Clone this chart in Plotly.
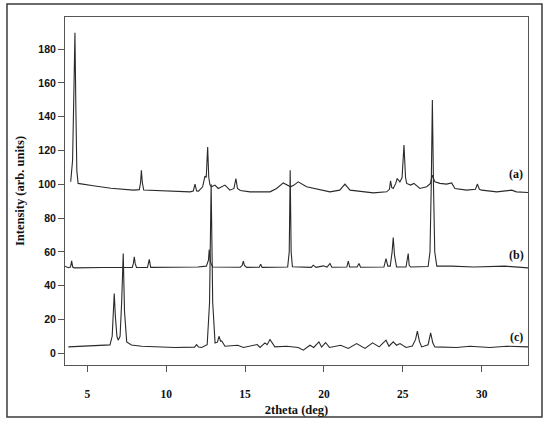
import plotly.graph_objects as go

# XRD patterns, (2theta, intensity) vertices
a_x = [3.95, 4.07, 4.16, 4.22, 4.28, 4.34, 4.42, 4.6, 5.38, 6.5, 7.92, 8.3, 8.38, 8.43,
       8.49, 8.58, 10.03, 11.51, 11.72, 11.83, 11.93, 12.05, 12.31, 12.46, 12.54, 12.63,
       12.7, 12.78, 12.88, 13.09, 13.3, 13.73, 14.04, 14.3, 14.42, 14.52, 14.7, 15.31,
       16.58, 17.0, 17.42, 17.64, 17.89, 18.1, 18.37, 18.9, 20.38, 21.0, 21.33, 21.65,
       23.13, 23.97, 24.15, 24.22, 24.3, 24.39, 24.55, 24.64, 24.81, 24.95, 25.07, 25.17,
       25.24, 25.49, 25.7, 26.08, 26.51, 26.75, 26.86, 26.96, 27.03, 27.35, 27.77, 28.09,
       28.3, 29.04, 29.6, 29.72, 29.85, 30.0, 30.95, 31.9, 32.2, 32.95]
a_y = [101.5, 114, 158, 189.6, 144, 108, 100.5, 100.2, 99.1, 97.6, 96.5, 96.8, 101, 108.3,
       101, 96.6, 96.1, 95.5, 96, 100.1, 96, 95.9, 98.5, 104.8, 104, 122.1,
       104, 99.5, 98.5, 99.5, 97.5, 99.5, 96.5, 97.5, 103.4, 97.5, 96.3, 95.5,
       95.5, 97.5, 100.8, 99.5, 98.5, 99.5, 101.4, 98.5, 95.5, 96.5, 100.1, 96.5,
       94.9, 95.5, 97, 102, 98, 97.5, 100.5, 103.4, 101.4, 104, 123.2, 104,
       100.5, 99.5, 100.5, 97.5, 98.5, 100.5, 105.4, 103, 101.4, 100.5, 100.1, 100.8,
       97.5, 96.5, 97, 100.1, 97, 96.5, 95.5, 96.5, 95.5, 95.1]

b_x = [3.59, 3.8, 3.94, 4.01, 4.08, 4.18, 6.0, 7.85, 7.92, 7.98, 8.04, 8.12, 8.82, 8.93,
       9.02, 10.5, 12.0, 12.55, 12.68, 12.73, 12.8, 12.95, 14.7, 14.82, 14.89, 14.96,
       15.1, 15.9, 15.99, 16.08, 17.7, 17.8, 17.86, 17.92, 18.0, 19.2, 19.32, 19.5,
       19.96, 20.2, 20.38, 20.5, 21.45, 21.54, 21.63, 22.1, 22.22, 22.32, 23.8, 23.93,
       24.05, 24.2, 24.32, 24.39, 24.47, 24.6, 25.2, 25.27, 25.34, 25.4, 25.5, 26.6,
       26.72, 26.8, 26.87, 26.94, 27.02, 27.15, 28.09, 29.5, 31.47, 32.95]
b_y = [51.5, 50.6, 51, 54.6, 51, 50.5, 50.7, 50.8, 53, 57, 53, 50.7, 50.8, 55.6,
       50.8, 50.9, 51, 51.5, 55, 61.4, 54, 51, 50.9, 52, 54.5, 52,
       50.8, 50.9, 52.7, 50.8, 51, 60, 108.3, 60, 51.2, 50.8, 52.1, 50.8,
       51.7, 51, 53.1, 50.9, 51, 54.5, 51, 51, 53.1, 50.9, 51, 56,
       51.5, 51.5, 60, 68.5, 58, 51, 51, 55, 59, 52, 51, 51.3,
       60, 100, 149.8, 100, 60, 51.5, 51.5, 51, 51.5, 50.5]

c_x = [3.8, 4.85, 6.0, 6.44, 6.58, 6.66, 6.71, 6.78, 6.88, 6.96, 7.08, 7.18, 7.28, 7.36,
       7.5, 7.8, 8.45, 10.56, 11.8, 11.93, 12.05, 12.25, 12.6, 12.75, 12.85, 12.95,
       13.1, 13.25, 13.35, 13.45, 13.52, 13.73, 14.53, 14.9, 15.77, 15.95, 16.26, 16.4,
       16.58, 16.89, 17.64, 18.37, 18.69, 19.11, 19.35, 19.68, 19.85, 20.1, 20.35, 21.06,
       21.54, 22.07, 22.6, 23.08, 23.5, 23.93, 24.12, 24.39, 24.6, 24.82, 25.2, 25.6,
       25.8, 25.92, 26.05, 26.19, 26.6, 26.76, 26.9, 27.03, 28.4, 29.25, 30.52, 31.58, 32.95]
c_y = [3.7, 4.1, 4.3, 4.9, 10, 25, 35.3, 22, 10, 7.7, 10, 30, 59, 25,
       6.7, 4.8, 4.1, 3.4, 3.6, 5.1, 3.6, 3.4, 5, 30, 100, 30,
       6, 6.5, 10, 7, 7.3, 4.1, 4.7, 3.4, 5.1, 3.4, 6.1, 5,
       8.1, 3.7, 4.1, 3.4, 1.8, 4.7, 3.4, 6.7, 3.6, 6.3, 3.4, 4.7,
       2.8, 5.7, 2.8, 6.1, 3.7, 7.7, 4.1, 6.7, 4.7, 5.7, 3.4, 4.2,
       8, 13, 7, 3.7, 5, 12, 6, 3.7, 3.4, 4.1, 3.4, 4.1, 3.7]

labels = ["(a)", "(b)", "(c)"]
label_y = [106, 58, 9.5]

serif = "Liberation Serif"
line_col = "#2a2a2a"

fig = go.Figure()
for xs, ys in ((a_x, a_y), (b_x, b_y), (c_x, c_y)):
    fig.add_trace(go.Scatter(x=xs, y=ys, mode="lines",
                             line=dict(color=line_col, width=1.1),
                             hoverinfo="skip", showlegend=False))

for lab, ly in zip(labels, label_y):
    fig.add_annotation(x=32.2, y=ly, text=lab, showarrow=False,
                       font=dict(family=serif, size=12, color="#111", weight="bold"))

# outer frame round the whole picture
fig.add_shape(type="rect", xref="paper", yref="paper",
              x0=-0.1253, x1=1.0302, y0=-0.1494, y1=1.0374,
              line=dict(color="#3a3a3a", width=1.5))

fig.update_layout(
    width=550, height=424, paper_bgcolor="white", plot_bgcolor="white",
    margin=dict(l=65, r=22, t=17, b=59),
    xaxis=dict(range=[3.59, 32.93], tickvals=[5, 10, 15, 20, 25, 30],
               ticks="outside", ticklen=6, tickcolor="#555", showgrid=False,
               zeroline=False, showline=True, linecolor="#555", linewidth=1,
               mirror=True, ticklabelstandoff=12, automargin=False,
               tickfont=dict(family=serif, size=11.5, color="#111", weight="bold"),
               title=dict(text="2theta (deg)", standoff=6,
                          font=dict(family=serif, size=12.5, color="#111",
                                    weight="bold"))),
    yaxis=dict(range=[-7, 199], tickvals=[0, 20, 40, 60, 80, 100, 120, 140, 160, 180],
               ticks="outside", ticklen=6, tickcolor="#555", showgrid=False,
               zeroline=False, showline=True, linecolor="#555", linewidth=1,
               mirror=True, automargin=False,
               tickfont=dict(family="Liberation Sans", size=10.5, color="#111",
                             weight="bold"),
               title=dict(text="Intensity (arb. units)", standoff=10,
                          font=dict(family=serif, size=12.5, color="#111",
                                    weight="bold"))),
)

# page margin would push the figure off the 550x424 window
fig.write_html("out.html", config={"displayModeBar": False},
               post_script="document.body.style.margin = '0px';")
